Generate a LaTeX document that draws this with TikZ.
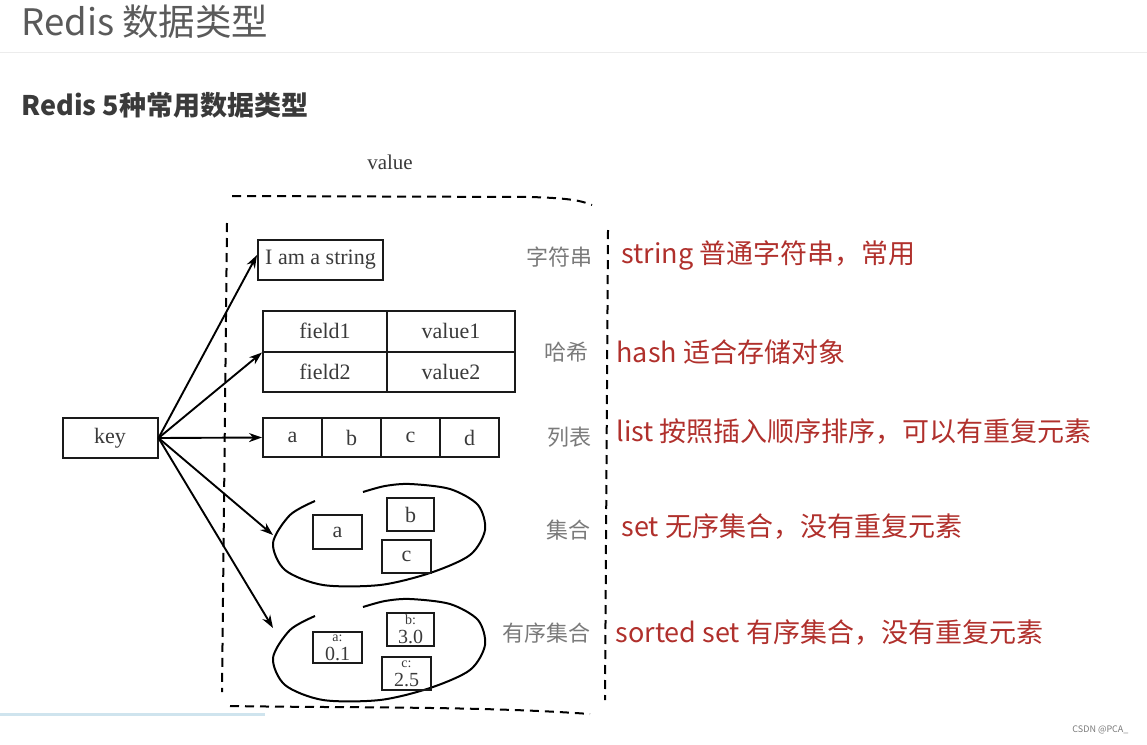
\documentclass[tikz,border=0pt]{standalone}
\usepackage{fontspec}
\newfontfamily\cjk{Noto Sans CJK SC}
\newfontfamily\hand{Liberation Serif}
\usetikzlibrary{arrows.meta}
\definecolor{cink}{HTML}{1A1A1A}
\definecolor{cgrey}{HTML}{3A3A3A}
\definecolor{ctitle}{HTML}{5A5A5A}
\definecolor{clabel}{HTML}{7A7A7A}
\definecolor{cred}{HTML}{B0302C}
\definecolor{cline}{HTML}{ECECEC}
\definecolor{cbar}{HTML}{CFE4EE}
\tikzset{
  every picture/.style={x=1pt, y=-1pt},
  cell/.style={draw=cink, line width=2pt, inner sep=0pt, minimum width=#1, minimum height=40pt, text=cgrey, font=\hand\fontsize{22}{22}\selectfont},
  cell/.default=59pt,
  arrow/.style={-{Stealth[length=13pt, width=9pt]}, draw=black, line width=1.9pt},
  dashframe/.style={draw=black, line width=2pt, dash pattern=on 9pt off 6pt},
  setring/.style={draw=black, line width=2pt},
  title/.style={font=\cjk\fontsize{36.5}{40}\selectfont, text=ctitle, anchor=west},
  subtitle/.style={font=\cjk\bfseries\fontsize{27}{30}\selectfont, text=cgrey, anchor=west},
  tag/.style={font=\cjk\fontsize{22}{24}\selectfont, text=clabel, anchor=east},
  note/.style={font=\cjk\fontsize{27}{30}\selectfont, text=cred, anchor=west},
  score/.style={align=center, font=\hand\fontsize{20}{19}\selectfont},
}

\begin{document}
\begin{tikzpicture}
  \useasboundingbox (0,0) rectangle (1147,744);
  % headings
  \node[title] (head) at (18,22) {Redis 数据类型};
  \draw[cline, line width=1pt] (0,52) -- (1147,52);
  \node[subtitle] (sub) at (18,105) {Redis 5种常用数据类型};
  \node[text=cgrey, font=\hand\fontsize{21}{21}\selectfont] (val) at (390,162) {value};
  % value frame
  \draw[dashframe] (232,196) -- (530,197) .. controls (565,198) and (580,200) .. (592,205);
  \draw[dashframe] (227,223) -- (222,692);
  \draw[dashframe] (608,230) -- (605,700);
  \draw[dashframe] (230,706) .. controls (350,708) and (480,706) .. (590,714);
  % key
  \node[cell=95pt] (key) at (110,438) {key};
  % string
  \node[cell=125pt] (str) at (320.5,260) {I am a string};
  % hash
  \node[cell=124pt, minimum height=41pt] (f1) at (325,331) {field1};
  \node[cell=128pt, minimum height=41pt] (v1) at (451,331) {value1};
  \node[cell=124pt] (f2) at (325,371.5) {field2};
  \node[cell=128pt] (v2) at (451,371.5) {value2};
  % list
  \node[cell, minimum height=39pt] (la) at (292.5,437.5) {a};
  \node[cell, minimum height=39pt] (lb) at (351.5,437.5) {b};
  \node[cell, minimum height=39pt] (lc) at (410.5,437.5) {c};
  \node[cell, minimum height=39pt] (ld) at (469.5,437.5) {d};
  % set
  \draw[setring] plot[smooth] coordinates {(315,501) (290,515) (273,543) (285,570) (323,585) (380,585) (430,573) (470,555) (485,530) (478,505) (450,489) (410,484) (385,486) (363,492)};
  \node[cell=49pt, minimum height=34pt] (sa) at (337.5,532) {a};
  \node[cell=47pt, minimum height=33pt] (sb) at (410.5,514.5) {b};
  \node[cell=49pt, minimum height=33pt] (sc) at (406.5,556.5) {c};
  \coordinate (setin) at (273,535);
  % sorted set
  \begin{scope}[shift={(0,115)}]
    \draw[setring] plot[smooth] coordinates {(315,501) (290,515) (273,543) (285,570) (323,585) (380,585) (430,573) (470,555) (485,530) (478,505) (450,489) (410,484) (385,486) (363,492)};
  \end{scope}
  \node[cell=49pt, minimum height=31pt, score] (za) at (337.5,647.5) {{\fontsize{14}{12}\selectfont a:}\\0.1};
  \node[cell=47pt, minimum height=33pt, score] (zb) at (410.5,629.5) {{\fontsize{14}{12}\selectfont b:}\\3.0};
  \node[cell=49pt, minimum height=33pt, score] (zc) at (406.5,673.5) {{\fontsize{14}{12}\selectfont c:}\\2.5};
  \coordinate (sortin) at (273,628);
  % arrows from key
  \draw[arrow] (key.east) -- ([yshift=5pt]str.west);
  \draw[arrow] (key.east) -- (f1.south west);
  \draw[arrow] (key.east) -- (la.west);
  \draw[arrow] (key.east) -- (setin);
  \draw[arrow] (key.east) -- (sortin);
  % type names
  \node[tag] (tstr) at (596,257) {字符串};
  \node[tag] (thash) at (592,352) {哈希};
  \node[tag] (tlist) at (595,437) {列表};
  \node[tag] (tset) at (594,530) {集合};
  \node[tag] (tsort) at (594,633) {有序集合};
  % notes
  \node[note] (nstr) at (618,255) {string 普通字符串，常用};
  \node[note] (nhash) at (613,352) {hash 适合存储对象};
  \node[note] (nlist) at (613,432) {list 按照插入顺序排序，可以有重复元素};
  \node[note] (nset) at (618,527) {set 无序集合，没有重复元素};
  \node[note] (nsort) at (612,633) {sorted set 有序集合，没有重复元素};
  % footer
  \draw[cbar, line width=3pt] (0,714) -- (265,714);
  \node[font=\cjk\fontsize{9}{10}\selectfont, text=clabel, anchor=east] (mark) at (1132,730) {CSDN @PCA\_};
\end{tikzpicture}
\end{document}
